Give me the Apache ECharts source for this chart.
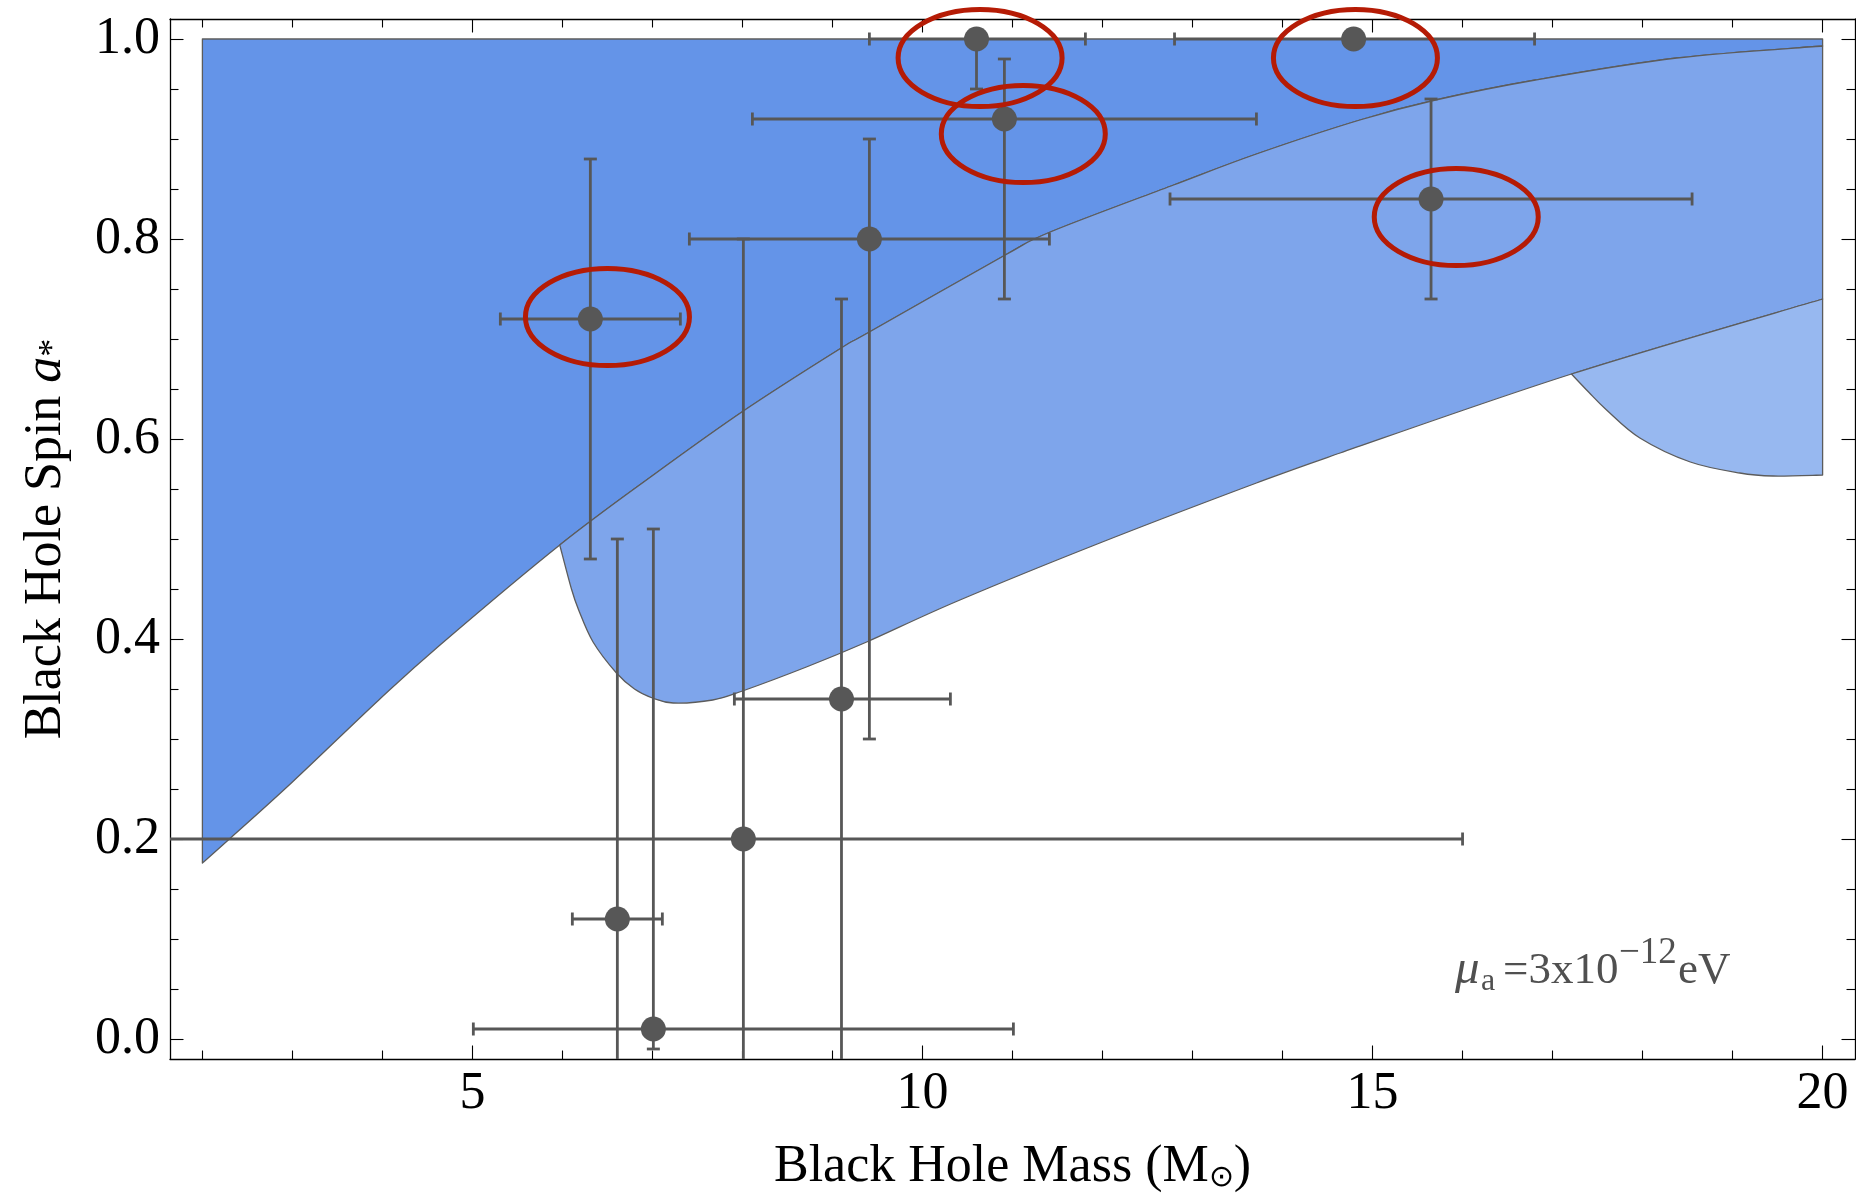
<!DOCTYPE html>
<html><head><meta charset="utf-8">
<script src="https://cdn.jsdelivr.net/npm/echarts@6/dist/echarts.min.js"></script>
<style>html,body{margin:0;padding:0;background:#fff}#c{width:1856px;height:1196px}</style>
</head><body><div id="c"></div>
<script>
// ---------------- data ----------------
// black hole measurements
const mass     = [6.31, 6.61, 7.01, 8.01, 9.10, 9.41, 10.60, 10.91, 14.79, 15.65];
const massLow  = [5.31, 6.11, 5.01, 0.01, 7.91, 7.41,  9.41,  8.11, 12.80, 12.75];
const massHigh = [7.31, 7.11, 11.01, 16.0, 10.31, 11.41, 11.81, 13.71, 16.80, 18.55];
const spin     = [0.72, 0.12, 0.01, 0.20, 0.34, 0.80, 1.00, 0.92, 1.00, 0.84];
const spinLow  = [0.48, -0.26, -0.01, -0.40, -0.06, 0.30, 0.95, 0.74, 1.00, 0.74];
const spinHigh = [0.88, 0.50, 0.51, 0.80, 0.74, 0.90, 1.00, 0.98, 1.00, 0.94];

// red ellipse highlights (centres)
const ringMass = [6.50, 10.64, 11.12, 14.81, 15.93];
const ringSpin = [0.722, 0.981, 0.905, 0.981, 0.822];

// region boundaries
const edgeAMass = [2.0, 2.3, 3.0, 3.96, 4.64, 5.97, 7.01, 8.01, 9.08, 9.41, 10.90, 11.42, 12.79, 13.71, 14.86, 15.70, 16.81, 18.38, 20.0];
const edgeASpin = [0.176, 0.200, 0.257, 0.339, 0.394, 0.494, 0.564, 0.628, 0.690, 0.707, 0.783, 0.807, 0.854, 0.885, 0.919, 0.939, 0.959, 0.981, 0.993];
const edgeBMass = [5.97, 6.10, 6.18, 6.34, 6.60, 6.80, 7.00, 7.23, 7.67, 8.00, 8.71, 9.38, 10.39, 11.97, 13.71, 14.64, 17.21, 20.0];
const edgeBSpin = [0.494, 0.450, 0.429, 0.397, 0.366, 0.350, 0.341, 0.336, 0.339, 0.348, 0.372, 0.397, 0.438, 0.496, 0.556, 0.586, 0.665, 0.740];
const edgeCMass = [17.21, 17.40, 17.60, 17.97, 18.53, 19.08, 19.45, 20.0];
const edgeCSpin = [0.665, 0.647, 0.629, 0.601, 0.577, 0.566, 0.563, 0.564];
const spinTop = 1.0;
const massLeft = 2.0, massRight = 20.0;

// ticks
const xMajor = [5, 10, 15, 20];
const xMinor = [2, 3, 4, 6, 7, 8, 9, 11, 12, 13, 14, 16, 17, 18, 19];
const yMajor = [0, 0.2, 0.4, 0.6, 0.8, 1.0];
const yMinor = [0.05, 0.1, 0.15, 0.25, 0.3, 0.35, 0.45, 0.5, 0.55, 0.65, 0.7, 0.75, 0.85, 0.9, 0.95];

// ---------------- region outlines built from the boundaries ----------------
const zip = (xs, ys) => xs.map((x, i) => [x, ys[i]]);
const A = zip(edgeAMass, edgeASpin), B = zip(edgeBMass, edgeBSpin), C = zip(edgeCMass, edgeCSpin);
const cuspIdx = edgeAMass.indexOf(edgeBMass[0]);
const joinIdx = edgeBMass.indexOf(edgeCMass[0]);
const nA = A.length, nB = B.length, nC = C.length;

const darkPieces = [
  { line: [[massLeft, spinTop], [massRight, spinTop], A[nA - 1]] },
  { curve: A, from: 0, to: nA - 1, rev: true }
];
const mediumPieces = [
  { curve: A, from: cuspIdx, to: nA - 1 },
  { line: [A[nA - 1], B[nB - 1]] },
  { curve: B, from: 0, to: nB - 1, rev: true }
];
const lightPieces = [
  { curve: B, from: joinIdx, to: nB - 1 },
  { line: [B[nB - 1], C[nC - 1]] },
  { curve: C, from: 0, to: nC - 1, rev: true }
];

// smooth (Catmull-Rom) segments of a boundary, in pixel space
function splineSegs(curve, api) {
  const p = curve.map(v => api.coord(v)), n = p.length, out = [];
  for (let i = 0; i < n - 1; i++) {
    const a = p[Math.max(i - 1, 0)], b = p[i], c = p[i + 1], d = p[Math.min(i + 2, n - 1)];
    out.push([b, [b[0] + (c[0] - a[0]) / 6, b[1] + (c[1] - a[1]) / 6],
                 [c[0] - (d[0] - b[0]) / 6, c[1] - (d[1] - b[1]) / 6], c]);
  }
  return out;
}
function regionPath(pieces, api) {
  let d = '', started = false;
  const go = (pt) => { d += (started ? 'L' : 'M') + pt[0].toFixed(2) + ' ' + pt[1].toFixed(2); started = true; };
  pieces.forEach(pc => {
    if (pc.line) {
      pc.line.map(v => api.coord(v)).forEach(go);
    } else {
      let s = splineSegs(pc.curve, api).slice(pc.from, pc.to);
      if (pc.rev) s = s.reverse().map(g => [g[3], g[2], g[1], g[0]]);
      go(s[0][0]);
      s.forEach(g => { d += 'C' + [g[1], g[2], g[3]].map(q => q[0].toFixed(2) + ' ' + q[1].toFixed(2)).join(' '); });
    }
  });
  return d + 'Z';
}

// ---------------- chart ----------------
const FONT = '"Liberation Serif","Times New Roman",serif';
const X_MIN = 1.64, X_MAX = 20.36, Y_MIN = -0.02, Y_MAX = 1.02;

function axis(kind, pos, ticks, len, line, labels, extra) {
  const base = {
    type: 'value', gridIndex: 0, position: pos,
    min: kind === 'x' ? X_MIN : Y_MIN, max: kind === 'x' ? X_MAX : Y_MAX,
    axisLine: { show: line, onZero: false, lineStyle: { color: '#000', width: 1.3 } },
    axisTick: { show: true, inside: true, length: len, customValues: ticks, lineStyle: { color: '#000', width: 1.1 } },
    axisLabel: labels ? Object.assign({ show: true, customValues: ticks, color: '#000', fontFamily: FONT, fontSize: 52, lineHeight: 52 }, labels) : { show: false },
    splitLine: { show: false }, minorTick: { show: false }, minorSplitLine: { show: false },
    axisPointer: { show: false }
  };
  return Object.assign(base, extra || {});
}

function regionSeries(pieces, color) {
  const verts = [];
  pieces.forEach(pc => (pc.line || pc.curve.slice(pc.from, pc.to + 1)).forEach(v => verts.push(v)));
  return {
    type: 'custom', xAxisIndex: 0, yAxisIndex: 0, clip: true, z: 1, silent: true,
    data: verts, encode: { x: 0, y: 1 },
    renderItem(params, api) {
      if (params.dataIndex !== 0) return null;
      return { type: 'path', shape: { pathData: regionPath(pieces, api) },
        style: { fill: color, stroke: '#5c5c5c', lineWidth: 1.3, lineJoin: 'round' } };
    }
  };
}

const chart = echarts.init(document.getElementById('c'), null, { renderer: 'canvas' });
chart.setOption({
  animation: false,
  backgroundColor: '#fff',
  grid: { left: 170, top: 19, width: 1685, height: 1040, containLabel: false, outerBoundsMode: 'none' },
  xAxis: [
    axis('x', 'bottom', xMajor, 13.5, true, { margin: 9 }, {
      name: 'Black Hole Mass (M{sub|⊙})', nameLocation: 'middle', nameGap: 82,
      nameTextStyle: { color: '#000', fontFamily: FONT, fontSize: 52, lineHeight: 52,
        rich: { sub: { fontFamily: FONT, fontSize: 30, lineHeight: 22, verticalAlign: 'bottom', color: '#000' } } }
    }),
    axis('x', 'bottom', xMinor, 8.5, false, null),
    axis('x', 'top', xMajor, 13.5, true, null),
    axis('x', 'top', xMinor, 8.5, false, null)
  ],
  yAxis: [
    axis('y', 'left', yMajor, 13.5, true, { margin: 10, formatter: v => v.toFixed(1) }, {
      name: 'Black Hole Spin {i|a}{s|*}', nameLocation: 'middle', nameGap: 98, nameRotate: 90,
      nameTextStyle: { color: '#000', fontFamily: FONT, fontSize: 52, lineHeight: 52,
        rich: {
          i: { fontFamily: FONT, fontStyle: 'italic', fontSize: 52, lineHeight: 52, color: '#000' },
          s: { fontFamily: FONT, fontSize: 36, lineHeight: 40, verticalAlign: 'bottom', color: '#000' }
        } }
    }),
    axis('y', 'left', yMinor, 8.5, false, null),
    axis('y', 'right', yMajor, 13.5, true, null),
    axis('y', 'right', yMinor, 8.5, false, null)
  ],
  series: [
    regionSeries(darkPieces, '#6494e8'),
    regionSeries(mediumPieces, '#7ea5eb'),
    regionSeries(lightPieces, '#97b8f0'),
    {
      type: 'custom', xAxisIndex: 0, yAxisIndex: 0, clip: true, z: 3, silent: true,
      data: mass.map((m, i) => [m, spin[i], massLow[i], massHigh[i], spinLow[i], spinHigh[i]]),
      encode: { x: 0, y: 1 },
      renderItem(params, api) {
        const m = api.value(0), s = api.value(1), ml = api.value(2), mh = api.value(3), sl = api.value(4), sh = api.value(5);
        const st = { stroke: '#575757', lineWidth: 2.8 };
        const cap = 6.5, ch = [];
        const seg = (a, b) => ch.push({ type: 'line', shape: { x1: a[0], y1: a[1], x2: b[0], y2: b[1] }, style: st });
        if (mh > ml) {
          const a = api.coord([ml, s]), b = api.coord([mh, s]);
          seg(a, b);
          seg([a[0], a[1] - cap], [a[0], a[1] + cap]);
          seg([b[0], b[1] - cap], [b[0], b[1] + cap]);
        }
        if (sh > sl) {
          const a = api.coord([m, sl]), b = api.coord([m, sh]);
          seg(a, b);
          seg([a[0] - cap, a[1]], [a[0] + cap, a[1]]);
          seg([b[0] - cap, b[1]], [b[0] + cap, b[1]]);
        }
        return { type: 'group', children: ch };
      }
    },
    {
      type: 'scatter', xAxisIndex: 0, yAxisIndex: 0, z: 4, silent: true,
      data: zip(mass, spin), symbol: 'circle', symbolSize: 25,
      itemStyle: { color: '#575757', opacity: 1 }
    },
    {
      type: 'custom', xAxisIndex: 0, yAxisIndex: 0, clip: false, z: 5, silent: true,
      data: zip(ringMass, ringSpin), encode: { x: 0, y: 1 },
      renderItem(params, api) {
        const c = api.coord([api.value(0), api.value(1)]);
        return { type: 'ellipse', shape: { cx: c[0], cy: c[1], rx: 82, ry: 48.5 },
          style: { fill: 'none', stroke: '#b51b05', lineWidth: 5 } };
      }
    }
  ],
  graphic: [
    { type: 'text', x: 1455, y: 970, style: { text: 'μ', font: 'italic 49px ' + FONT, fill: '#505050', verticalAlign: 'middle', align: 'left' } },
    { type: 'text', x: 1481, y: 982, style: { text: 'a', font: '32px ' + FONT, fill: '#505050', verticalAlign: 'middle', align: 'left' } },
    { type: 'text', x: 1503, y: 971, style: { text: '=3x10', font: '45px ' + FONT, fill: '#505050', verticalAlign: 'middle', align: 'left' } },
    { type: 'text', x: 1619, y: 953, style: { text: '−12', font: '37px ' + FONT, fill: '#505050', verticalAlign: 'middle', align: 'left' } },
    { type: 'text', x: 1678, y: 971, style: { text: 'eV', font: '45px ' + FONT, fill: '#505050', verticalAlign: 'middle', align: 'left' } }
  ]
});
</script></body></html>
